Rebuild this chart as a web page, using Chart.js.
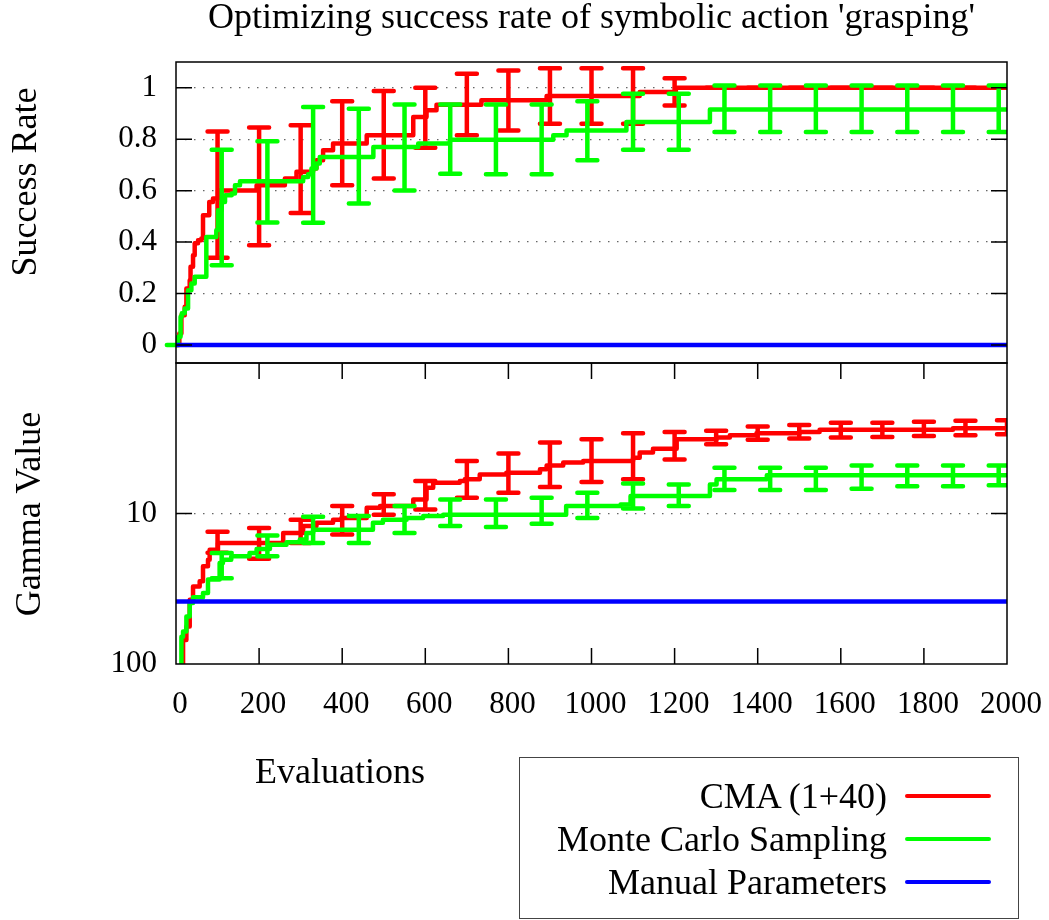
<!DOCTYPE html>
<html>
<head>
<meta charset="utf-8">
<script src="https://cdn.jsdelivr.net/npm/chart.js@4.4.1/dist/chart.umd.min.js"></script>
<style>
  html, body { margin: 0; padding: 0; background: #fff; }
  #wrap { position: relative; width: 1049px; height: 920px; font-family: 'Liberation Serif', serif; color: #000; }
  #chart { position: absolute; left: 0; top: 0; }
  .ytitle { position: absolute; font-size: 36px; line-height: 36px; white-space: nowrap; transform: translate(-50%, -50%) rotate(-90deg); }
  #xtitle { position: absolute; left: 255px; top: 753px; font-size: 36px; line-height: 36px; white-space: nowrap; }
  #legend { position: absolute; left: 519px; top: 757px; width: 500px; height: 162px; border: 1.5px solid #444; box-sizing: border-box; }
  .row { position: absolute; right: 27px; display: flex; align-items: center; font-size: 36px; line-height: 36px; white-space: nowrap; }
  .row .swatch { width: 86px; height: 4px; border-radius: 2px; margin-left: 18px; }
</style>
</head>
<body>
<div id="wrap">
  <canvas id="chart" width="1049" height="920"></canvas>
  <div class="ytitle" style="left:24px; top:182px;">Success Rate</div>
  <div class="ytitle" style="left:28px; top:514px;">Gamma Value</div>
  <div id="xtitle">Evaluations</div>
  <div id="legend"></div>
</div>
<script>
// --- DATA ---
const evalTicks = [0, 200, 400, 600, 800, 1000, 1200, 1400, 1600, 1800, 2000];
const successTicks = [0, 0.2, 0.4, 0.6, 0.8, 1];
const gammaTicks = [10, 100];

// CMA (1+40), best success rate so far
const cmaRateX = [0, 8, 13, 21, 25, 33, 35, 41, 45, 53, 61, 65, 80, 89, 101, 194, 262, 290, 330, 338, 354, 378, 459, 571, 603, 627, 735, 892, 1116, 1203, 2000];
const cmaRateY = [0, 0.045, 0.116, 0.149, 0.22, 0.252, 0.304, 0.349, 0.395, 0.407, 0.414, 0.504, 0.556, 0.569, 0.601, 0.621, 0.647, 0.673, 0.686, 0.718, 0.757, 0.783, 0.815, 0.886, 0.912, 0.934, 0.951, 0.968, 0.983, 1.0, 1.0];
const cmaBarX = [100, 200, 300, 400, 500, 600, 700, 800, 900, 1000, 1100, 1200, 1300, 1400, 1500, 1600, 1700, 1800, 1900, 2000];
const cmaRateLo = [0.339, 0.388, 0.513, 0.621, 0.647, 0.767, 0.815, 0.834, 0.86, 0.86, 0.86, 0.931, 1, 1, 1, 1, 1, 1, 1, 1];
const cmaRateHi = [0.83, 0.845, 0.854, 0.947, 0.987, 1.0, 1.054, 1.067, 1.076, 1.076, 1.076, 1.037, 1, 1, 1, 1, 1, 1, 1, 1];

// CMA (1+40), gamma value
const cmaGammaX = [13, 17, 25, 33, 41, 57, 65, 77, 81, 101, 258, 306, 338, 378, 398, 459, 491, 571, 603, 619, 683, 695, 731, 795, 876, 892, 932, 980, 1100, 1116, 1148, 1205, 1301, 1333, 1397, 1501, 1549, 1870, 2000];
const cmaGammaY = [112, 69.2, 56.4, 37.4, 30.5, 28.2, 22.4, 20.3, 17.4, 15.7, 13.5, 12.1, 11.5, 11.0, 10.7, 9.16, 8.93, 8.07, 6.75, 6.24, 6.08, 5.93, 5.50, 5.36, 5.09, 4.79, 4.59, 4.48, 4.26, 3.94, 3.71, 3.21, 3.13, 3.02, 2.93, 2.87, 2.78, 2.71, 2.71];
const cmaGammaLo = [13.2, 12.5, 11.0, 8.93, 7.46, 6.08, 4.48, 4.00, 3.38, 3.21, 2.93, 2.87, 2.82, 2.64, 2.58, 2.49, 2.49, 2.46, 2.42, 2.40];
const cmaGammaHi = [18.2, 20.0, 15.7, 13.8, 10.2, 9.40, 7.87, 7.28, 6.67, 6.18, 5.93, 4.37, 3.47, 3.24, 3.18, 3.13, 3.10, 3.05, 3.02, 2.98];

// Monte Carlo sampling, best success rate so far
const mcRateX = [-22, 5, 11, 14, 21, 29, 37, 45, 73, 97, 101, 110, 118, 134, 142, 154, 306, 318, 326, 338, 346, 475, 583, 659, 908, 940, 1084, 1285, 2000];
const mcRateY = [0, 0.032, 0.11, 0.123, 0.142, 0.213, 0.239, 0.265, 0.42, 0.446, 0.524, 0.556, 0.582, 0.589, 0.621, 0.636, 0.653, 0.664, 0.686, 0.705, 0.731, 0.77, 0.783, 0.798, 0.815, 0.834, 0.867, 0.915, 0.915];
const mcBarX = [110, 220, 330, 440, 550, 660, 770, 880, 990, 1100, 1210, 1320, 1430, 1540, 1650, 1760, 1870, 1980];
const mcRateLo = [0.31, 0.476, 0.475, 0.55, 0.601, 0.666, 0.664, 0.664, 0.718, 0.759, 0.759, 0.828, 0.828, 0.828, 0.828, 0.828, 0.828, 0.828];
const mcRateHi = [0.759, 0.792, 0.925, 0.918, 0.935, 0.935, 0.935, 0.935, 0.947, 0.977, 0.977, 1.009, 1.009, 1.009, 1.009, 1.009, 1.009, 1.009];

// Monte Carlo sampling, gamma value
const mcGammaX = [9, 13, 17, 25, 33, 41, 65, 77, 105, 113, 133, 177, 194, 226, 266, 298, 314, 330, 474, 498, 555, 595, 643, 939, 1070, 1094, 1285, 1301, 1422, 2000];
const mcGammaY = [112, 65.8, 60.8, 48.3, 39.4, 36.0, 33.8, 27.5, 21.3, 20.3, 19.2, 18.3, 17.2, 16.1, 15.5, 14.9, 13.5, 12.8, 11.5, 11.0, 10.7, 10.4, 10.2, 8.93, 8.71, 7.66, 6.41, 5.93, 5.58, 5.58];
const mcGammaLo = [18.3, 14.0, 10.5, 10.4, 8.93, 8.07, 8.07, 7.87, 7.28, 6.31, 6.41, 4.97, 4.97, 4.97, 4.79, 4.79, 4.79, 4.79];
const mcGammaHi = [26.9, 19.2, 15.7, 15.7, 13.5, 12.1, 12.3, 11.7, 10.7, 9.27, 8.93, 6.98, 6.98, 6.98, 6.85, 6.58, 6.58, 6.50];

// Manual parameters (constant)
const manualX = [0, 2000];
const manualRate = [0, 0];
const manualGamma = [38.5, 38.5];

// --- HELPERS ---
const pts = (xs, ys) => xs.map((x, i) => ({ x: x, y: ys[i] }));
const serif = "'Liberation Serif', 'Times New Roman', serif";
const tickFont = { family: serif, size: 31 };
const RED = '#ff0000', GREEN = '#00ff00', BLUE = '#0000ff';

function lineSet(label, color, data, axis, order, extra) {
  return Object.assign({
    label: label, data: data, yAxisID: axis, order: order,
    borderColor: color, backgroundColor: color, borderWidth: 4.5,
    borderCapStyle: 'round', borderJoinStyle: 'round',
    pointRadius: 0, pointHoverRadius: 0, fill: false, tension: 0
  }, extra || {});
}

// error bars + gnuplot-like frame and inward ticks
const decor = {
  id: 'decor',
  afterDatasetDraw(chart, args) {
    const ds = chart.data.datasets[args.index];
    const e = ds.errorBars;
    if (!e) return;
    const xs = chart.scales.x, ys = chart.scales[ds.yAxisID];
    const ctx = chart.ctx, a = chart.chartArea;
    ctx.save();
    ctx.beginPath();
    ctx.rect(a.left, ys.top, a.right - a.left, ys.bottom - ys.top);
    ctx.clip();
    ctx.strokeStyle = ds.borderColor;
    ctx.lineWidth = 4.5;
    ctx.lineCap = 'round';
    e.x.forEach((x, i) => {
      const px = xs.getPixelForValue(x);
      const p1 = ys.getPixelForValue(e.lo[i]);
      const p2 = ys.getPixelForValue(e.hi[i]);
      ctx.beginPath();
      ctx.moveTo(px, p1); ctx.lineTo(px, p2);
      ctx.moveTo(px - 10, p1); ctx.lineTo(px + 10, p1);
      ctx.moveTo(px - 10, p2); ctx.lineTo(px + 10, p2);
      ctx.stroke();
    });
    ctx.restore();
  },
  afterDraw(chart) {
    const ctx = chart.ctx, a = chart.chartArea, xs = chart.scales.x;
    const tl = 16;
    ctx.save();
    ctx.strokeStyle = '#000';
    ctx.lineWidth = 1.5;
    ['y', 'y2'].forEach(id => {
      const s = chart.scales[id];
      ctx.strokeRect(a.left, s.top, a.right - a.left, s.bottom - s.top);
      ctx.beginPath();
      s.ticks.forEach(t => {
        const py = s.getPixelForValue(t.value);
        if (py <= s.top + 1 || py >= s.bottom - 1) return;
        ctx.moveTo(a.left, py); ctx.lineTo(a.left + tl, py);
        ctx.moveTo(a.right, py); ctx.lineTo(a.right - tl, py);
      });
      ctx.stroke();
    });
    const g = chart.scales.y2;
    ctx.beginPath();
    xs.ticks.forEach(t => {
      const px = xs.getPixelForValue(t.value);
      if (px <= a.left + 1 || px >= a.right - 1) return;
      ctx.moveTo(px, g.top); ctx.lineTo(px, g.top + tl);
      ctx.moveTo(px, g.bottom); ctx.lineTo(px, g.bottom - tl);
    });
    ctx.stroke();
    ctx.restore();
  }
};

// --- CHART ---
const ctx = document.getElementById('chart').getContext('2d');
const chart = new Chart(ctx, {
  type: 'line',
  data: {
    datasets: [
      lineSet('CMA (1+40)', RED, pts(cmaRateX, cmaRateY), 'y', 3,
        { stepped: true, errorBars: { x: cmaBarX, lo: cmaRateLo, hi: cmaRateHi } }),
      lineSet('CMA (1+40)', RED, pts(cmaGammaX, cmaGammaY), 'y2', 3,
        { stepped: true, errorBars: { x: cmaBarX, lo: cmaGammaLo, hi: cmaGammaHi } }),
      lineSet('Monte Carlo Sampling', GREEN, pts(mcRateX, mcRateY), 'y', 2,
        { stepped: true, clip: { left: 12, top: 0, right: 0, bottom: 0 }, errorBars: { x: mcBarX, lo: mcRateLo, hi: mcRateHi } }),
      lineSet('Monte Carlo Sampling', GREEN, pts(mcGammaX, mcGammaY), 'y2', 2,
        { stepped: true, errorBars: { x: mcBarX, lo: mcGammaLo, hi: mcGammaHi } }),
      lineSet('Manual Parameters', BLUE, pts(manualX, manualRate), 'y', 1),
      lineSet('Manual Parameters', BLUE, pts(manualX, manualGamma), 'y2', 1)
    ]
  },
  options: {
    responsive: false,
    animation: false,
    devicePixelRatio: 1,
    layout: { padding: { left: 0, right: 42, top: 0, bottom: 0 } },
    plugins: {
      legend: { display: false },
      tooltip: { enabled: false },
      title: {
        display: true,
        text: "Optimizing success rate of symbolic action 'grasping'",
        fullSize: false,
        color: '#000',
        font: { family: serif, size: 36, weight: 'normal', lineHeight: 1 },
        padding: { top: 1, bottom: 25 }
      }
    },
    scales: {
      x: {
        type: 'linear', min: 0, max: 2000,
        afterBuildTicks: s => { s.ticks = evalTicks.map(v => ({ value: v })); },
        afterFit: s => { s.height = 256; s.paddingLeft = 0; s.paddingRight = 0; },
        grid: { display: false, drawTicks: false },
        border: { display: false },
        ticks: { font: tickFont, color: '#000', padding: 22, labelOffset: 4, maxRotation: 0, autoSkip: false, callback: v => String(v) }
      },
      y: {
        type: 'linear', position: 'left', stack: 'panels', stackWeight: 1, weight: 1,
        min: -0.07, max: 1.1,
        afterBuildTicks: s => { s.ticks = successTicks.map(v => ({ value: v })); },
        afterFit: s => { s.width = 176; s.paddingTop = 0; s.paddingBottom = 0; },
        grid: { color: '#666', lineWidth: 1.3, drawTicks: false },
        border: { display: false, dash: [1.5, 7.5] },
        ticks: { font: tickFont, color: '#000', padding: 19, callback: v => String(v) }
      },
      y2: {
        type: 'logarithmic', position: 'left', stack: 'panels', stackWeight: 1, weight: 0,
        reverse: true, min: 1, max: 100,
        afterBuildTicks: s => { s.ticks = gammaTicks.map(v => ({ value: v })); },
        afterFit: s => { s.width = 176; s.paddingTop = 0; s.paddingBottom = 0; },
        grid: { color: c => (c.tick && c.tick.value === 10) ? '#666' : 'rgba(0,0,0,0)', lineWidth: 1.3, drawTicks: false },
        border: { display: false, dash: [1.5, 7.5] },
        ticks: { font: tickFont, color: '#000', padding: 19, callback: v => String(v) }
      }
    }
  },
  plugins: [decor]
});

// --- LEGEND (built from the datasets) ---
function renderLegend() {
  const el = document.getElementById('legend');
  const rowTops = [20, 63, 106];
  chart.data.datasets.filter(d => d.yAxisID === 'y').forEach((d, i) => {
    const row = document.createElement('div');
    row.className = 'row';
    row.style.top = rowTops[i] + 'px';
    row.innerHTML = '<span>' + d.label + '</span><span class="swatch" style="background:' + d.borderColor + '"></span>';
    el.appendChild(row);
  });
}
renderLegend();
</script>
</body>
</html>
